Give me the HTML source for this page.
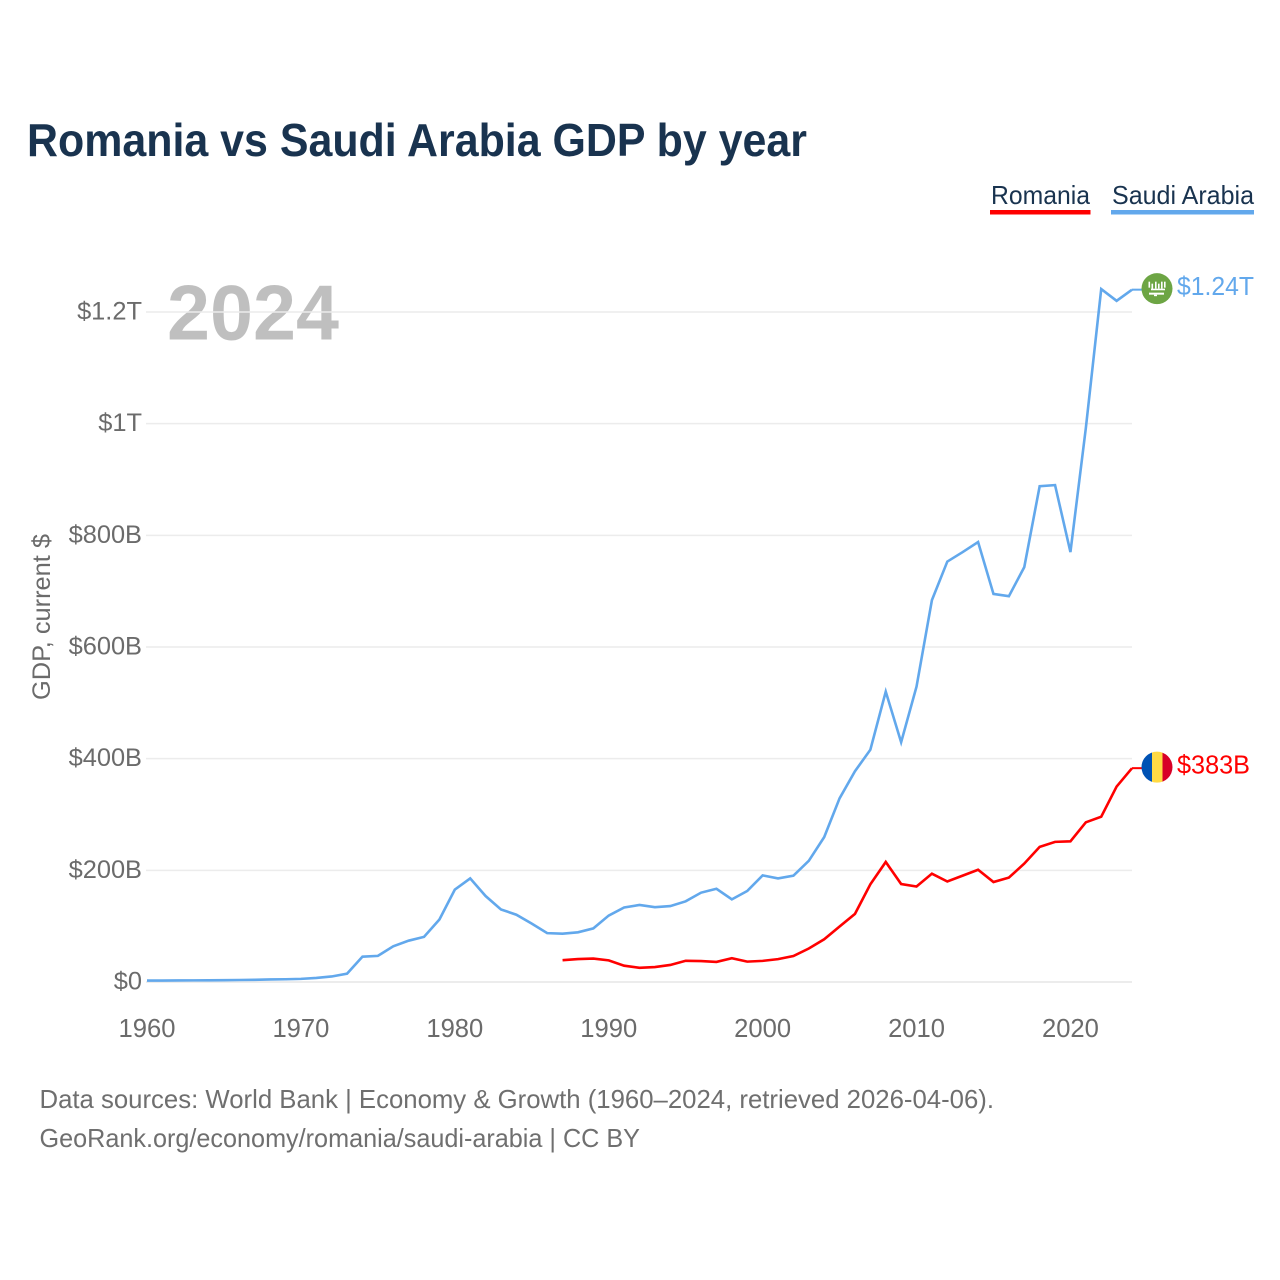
<!DOCTYPE html>
<html lang="en">
<head>
<meta charset="utf-8">
<title>Romania vs Saudi Arabia GDP by year</title>
<style>
html,body{margin:0;padding:0;background:#fff;width:1280px;height:1280px;overflow:hidden}
svg{display:block}
text{font-family:"Liberation Sans","DejaVu Sans",sans-serif}
</style>
</head>
<body>
<svg id="chart" xmlns="http://www.w3.org/2000/svg" width="1280" height="1280" viewBox="0 0 1280 1280">
  <text x="27" y="156" font-size="46" font-weight="700" fill="#19334f" textLength="780" lengthAdjust="spacingAndGlyphs">Romania vs Saudi Arabia GDP by year</text>

  <g>
    <g>
      <text x="991" y="204" font-size="26" fill="#19334f" textLength="99" lengthAdjust="spacingAndGlyphs">Romania</text>
      <rect x="990" y="210" width="100.5" height="4.5" fill="#ff0000"/>
    </g>
    <g>
      <text x="1112" y="204" font-size="26" fill="#19334f" textLength="142" lengthAdjust="spacingAndGlyphs">Saudi Arabia</text>
      <rect x="1111" y="210" width="143" height="4.5" fill="#62a8ec"/>
    </g>
  </g>

  <text x="167" y="339.5" font-size="78" font-weight="700" fill="#000" fill-opacity="0.25" textLength="172" lengthAdjust="spacingAndGlyphs">2024</text>

  <g id="grid"></g>
  <g id="yticks"></g>
  <g id="xticks"></g>

  <text transform="translate(50,700) rotate(-90)" x="0" y="0" font-size="25" fill="#6b6b6b" textLength="166" lengthAdjust="spacingAndGlyphs">GDP, current $</text>

  <g id="series"></g>
  <g id="ends"></g>

  <g>
    <text x="39.5" y="1108" font-size="26" fill="#6f6f6f" textLength="954.5" lengthAdjust="spacingAndGlyphs">Data sources: World Bank | Economy &amp; Growth (1960–2024, retrieved 2026-04-06).</text>
    <text x="39.5" y="1147" font-size="26" fill="#6f6f6f" textLength="600.5" lengthAdjust="spacingAndGlyphs">GeoRank.org/economy/romania/saudi-arabia | CC BY</text>
  </g>
</svg>
<script>
// Chart data (values in billions of current US$)
const saudiStartYear = 1960;
const saudiValues = [2.5,2.6,2.8,2.9,3.0,3.3,3.6,3.9,4.6,4.9,5.6,7.2,9.9,14.9,45.4,46.8,64,74,80.8,112,165.5,185.5,154,130,120.5,104.5,87.5,86.5,89,96,119,133.5,138,134,136,144.5,160,167,148,163,191,185.5,190.5,217,259.5,329,377.5,416,520,429.5,529,684,753,770,788,695,691,743,888,890,770,992,1241,1220,1240];
const romaniaStartYear = 1987;
const romaniaValues = [39,41,42,38.8,29.2,25.5,26.8,30.5,38,37.5,36,42.5,36.5,37.8,41,46.5,60,76.5,99.5,122,175,215,175.5,171,194,180,190.5,201,179,187,212,242,251,252,286,296,350,383];
const yTickValues = [0,200,400,600,800,1000,1200];
const yTickLabels = ["$0","$200B","$400B","$600B","$800B","$1T","$1.2T"];
const xTickYears = [1960,1970,1980,1990,2000,2010,2020];
const saudiEndLabel = "$1.24T";
const romaniaEndLabel = "$383B";

const NS = "http://www.w3.org/2000/svg";
const xAt = function (year) { return 147 + (year - 1960) * (1132 - 147) / 64; };
const yAt = function (v) { return 982 - v * (982 - 312) / 1200; };
const make = function (tag, parent) {
  const el = document.createElementNS(NS, tag);
  parent.appendChild(el);
  return el;
};

const grid = document.getElementById("grid");
const yticks = document.getElementById("yticks");
yTickValues.forEach(function (v, i) {
  const line = make("line", grid);
  
  
  line.setAttribute("x1", 146);
  line.setAttribute("x2", 1132);
  line.setAttribute("y1", yAt(v));
  line.setAttribute("y2", yAt(v));
  line.setAttribute("stroke", "#ececec");
  line.setAttribute("stroke-width", v === 0 ? 2 : 1.5);
  const label = make("text", yticks);
  
  
  label.setAttribute("x", 142);
  label.setAttribute("y", yAt(v) + 7.5);
  label.setAttribute("text-anchor", "end");
  label.setAttribute("font-size", 25.4);
  label.setAttribute("fill", "#6b6b6b");
  label.textContent = yTickLabels[i];
});

const xticks = document.getElementById("xticks");
xTickYears.forEach(function (yr) {
  const label = make("text", xticks);
  
  
  label.setAttribute("x", xAt(yr));
  label.setAttribute("y", 1037);
  label.setAttribute("text-anchor", "middle");
  label.setAttribute("font-size", 25.6);
  label.setAttribute("fill", "#6b6b6b");
  label.textContent = yr;
});

const series = document.getElementById("series");
const pointsFor = function (values, startYear) {
  return values.map(function (v, i) {
    return xAt(startYear + i).toFixed(2) + "," + yAt(v).toFixed(2);
  }).join(" ");
};

const saudiLine = make("polyline", series);


saudiLine.setAttribute("points", pointsFor(saudiValues, saudiStartYear));
saudiLine.setAttribute("fill", "none");
saudiLine.setAttribute("stroke", "#62a8ec");
saudiLine.setAttribute("stroke-width", 2.6);
saudiLine.setAttribute("stroke-linejoin", "miter");

const romaniaLine = make("polyline", series);


romaniaLine.setAttribute("points", pointsFor(romaniaValues, romaniaStartYear));
romaniaLine.setAttribute("fill", "none");
romaniaLine.setAttribute("stroke", "#ff0000");
romaniaLine.setAttribute("stroke-width", 2.6);
romaniaLine.setAttribute("stroke-linejoin", "miter");

// End-of-line markers follow the last value of each series
const ends = document.getElementById("ends");
const endX = xAt(2024);
const saudiY = yAt(saudiValues[saudiValues.length - 1]);
const romaniaY = yAt(romaniaValues[romaniaValues.length - 1]);

const saudiLink = make("line", ends);


saudiLink.setAttribute("x1", endX);
saudiLink.setAttribute("x2", endX + 10);
saudiLink.setAttribute("y1", saudiY);
saudiLink.setAttribute("y2", saudiY);
saudiLink.setAttribute("stroke", "#62a8ec");
saudiLink.setAttribute("stroke-width", 2);

const romaniaLink = make("line", ends);


romaniaLink.setAttribute("x1", endX);
romaniaLink.setAttribute("x2", endX + 10);
romaniaLink.setAttribute("y1", romaniaY);
romaniaLink.setAttribute("y2", romaniaY);
romaniaLink.setAttribute("stroke", "#ff0000");
romaniaLink.setAttribute("stroke-width", 2);

const saudiFlag = make("g", ends);


saudiFlag.setAttribute("transform", "translate(" + (endX + 25) + "," + (saudiY - 1) + ")");
saudiFlag.innerHTML =
  '<circle r="15.5" fill="#6da544"/>' +
  '<g fill="#fff">' +
  '<rect x="-8.5" y="-7" width="1.6" height="6"/><rect x="-5.5" y="-5" width="1.6" height="6"/>' +
  '<rect x="-2" y="-7" width="1.6" height="7"/><rect x="1" y="-5" width="1.6" height="5"/>' +
  '<rect x="4" y="-7" width="1.6" height="7"/><rect x="7" y="-7" width="1.6" height="6"/>' +
  '<rect x="-6" y="0" width="14" height="1.6"/>' +
  '<rect x="-8" y="4" width="15" height="2"/><rect x="-3" y="6" width="3" height="1.5"/>' +
  '</g>';

const romaniaFlag = make("g", ends);


romaniaFlag.setAttribute("transform", "translate(" + (endX + 25) + "," + (romaniaY - 1) + ")");
romaniaFlag.innerHTML =
  '<clipPath id="rc"><circle r="15.5"/></clipPath>' +
  '<g clip-path="url(#rc)">' +
  '<rect x="-16" y="-16" width="11" height="32" fill="#0052b4"/>' +
  '<rect x="-5" y="-16" width="10.5" height="32" fill="#ffda44"/>' +
  '<rect x="5.5" y="-16" width="11" height="32" fill="#d80027"/>' +
  '</g>';

const saudiText = make("text", ends);


saudiText.setAttribute("x", endX + 45);
saudiText.setAttribute("y", saudiY + 5.5);
saudiText.setAttribute("font-size", 25.6);
saudiText.setAttribute("fill", "#62a8ec");
saudiText.setAttribute("textLength", 77);
saudiText.setAttribute("lengthAdjust", "spacingAndGlyphs");
saudiText.textContent = saudiEndLabel;

const romaniaText = make("text", ends);


romaniaText.setAttribute("x", endX + 45);
romaniaText.setAttribute("y", romaniaY + 5.5);
romaniaText.setAttribute("font-size", 25.6);
romaniaText.setAttribute("fill", "#ff0000");
romaniaText.setAttribute("textLength", 73);
romaniaText.setAttribute("lengthAdjust", "spacingAndGlyphs");
romaniaText.textContent = romaniaEndLabel;
</script>
</body>
</html>
